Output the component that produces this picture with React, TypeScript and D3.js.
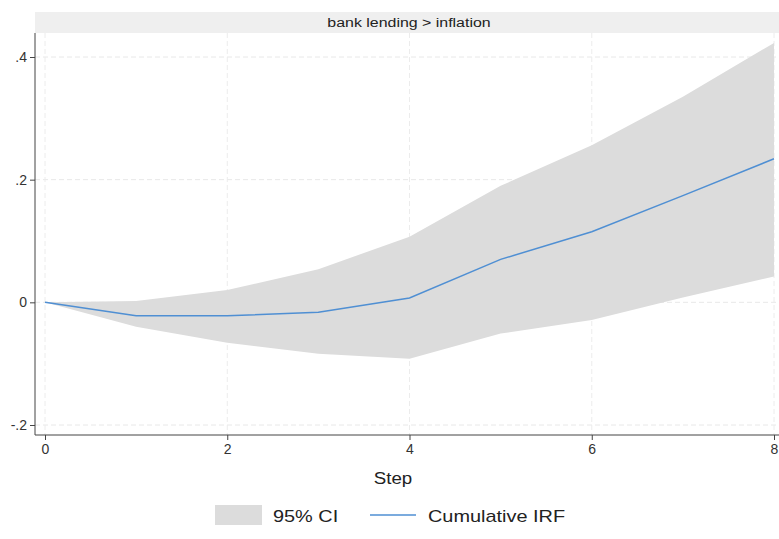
import { useRef, useEffect } from 'react';
import * as d3 from 'd3';

const steps = [0, 1, 2, 3, 4, 5, 6, 7, 8];
const irf = [0, -0.022, -0.022, -0.016, 0.007, 0.07, 0.115, 0.174, 0.234];
const ciLower = [0, -0.04, -0.066, -0.084, -0.092, -0.051, -0.029, 0.008, 0.042];
const ciUpper = [0, 0.002, 0.02, 0.054, 0.107, 0.19, 0.256, 0.335, 0.423];
const yTicks = [-0.2, 0, 0.2, 0.4];
const xTicks = [0, 2, 4, 6, 8];
const panelTitle = 'bank lending > inflation';

const FONT = '"Liberation Sans", Arial, sans-serif';

export default function App() {
  const svgRef = useRef<SVGSVGElement>(null);

  useEffect(() => {
    document.body.style.margin = '0';
    if (!svgRef.current) return;
    const width = 779;
    const h = 539;
    const plot = { left: 35, right: 779, top: 33, bottom: 435 };

    const svg = d3.select(svgRef.current);
    svg.selectAll('*').remove();
    svg.attr('width', width).attr('height', h).attr('viewBox', `0 0 ${width} ${h}`);

    svg.append('rect').attr('width', width).attr('height', h).attr('fill', '#fff');

    const x = d3.scaleLinear().domain([0, 8]).range([45, 774]);
    const y = d3.scaleLinear().domain([-0.2, 0.4]).range([425, 57]);

    // Header strip
    svg.append('rect')
      .attr('x', plot.left).attr('y', 12)
      .attr('width', plot.right - plot.left).attr('height', plot.top - 12)
      .attr('fill', '#efefef');
    svg.append('text')
      .attr('transform', 'translate(409,27) scale(1.18,1)')
      .attr('text-anchor', 'middle')
      .attr('font-family', FONT).attr('font-size', '13.5px').attr('fill', '#222')
      .text(panelTitle);

    // Grid
    svg.append('g')
      .selectAll('line')
      .data(yTicks)
      .join('line')
      .attr('x1', plot.left).attr('x2', plot.right)
      .attr('y1', d => y(d)).attr('y2', d => y(d))
      .attr('stroke', '#e8e8e8').attr('stroke-dasharray', '5,3');
    svg.append('g')
      .selectAll('line')
      .data(xTicks)
      .join('line')
      .attr('x1', d => x(d)).attr('x2', d => x(d))
      .attr('y1', plot.top).attr('y2', plot.bottom)
      .attr('stroke', '#ececec').attr('stroke-dasharray', '5,3');

    // CI band
    svg.append('path')
      .datum(steps)
      .attr('fill', '#dcdcdc')
      .attr('d', d3.area<number>()
        .x(d => x(d))
        .y0((_, i) => y(ciLower[i]))
        .y1((_, i) => y(ciUpper[i]))
      );

    // IRF line
    svg.append('path')
      .datum(steps)
      .attr('fill', 'none')
      .attr('stroke', '#4f8fd3')
      .attr('stroke-width', 1.5)
      .attr('d', d3.line<number>()
        .x(d => x(d))
        .y((_, i) => y(irf[i]))
      );

    // Axes
    const fmtY = (d: number) => {
      if (d === 0) return '0';
      const s = d3.format('.1f')(d);
      return s.replace('0.', '.').replace('−', '-');
    };

    svg.append('g')
      .attr('transform', `translate(${plot.left},0)`)
      .call(d3.axisLeft(y).tickValues(yTicks).tickSize(5).tickPadding(3).tickFormat(d => fmtY(+d)))
      .call(g => g.select('.domain').attr('stroke', '#444').attr('d', `M0,${plot.top}V${plot.bottom}`))
      .call(g => g.selectAll('.tick line').attr('stroke', '#444'))
      .call(g => g.selectAll('.tick text').attr('fill', '#333').attr('font-size', '14px').attr('font-family', FONT));

    svg.append('g')
      .attr('transform', `translate(0,${plot.bottom})`)
      .call(d3.axisBottom(x).tickValues(xTicks).tickSize(5).tickPadding(4).tickFormat(d3.format('d')))
      .call(g => g.select('.domain').attr('stroke', '#444').attr('d', `M${plot.left},0H${plot.right}`))
      .call(g => g.selectAll('.tick line').attr('stroke', '#444'))
      .call(g => g.selectAll('.tick text').attr('fill', '#333').attr('font-size', '14px').attr('font-family', FONT));

    // Axis title
    svg.append('text')
      .attr('transform', 'translate(393,484) scale(1.1,1)')
      .attr('text-anchor', 'middle')
      .attr('font-family', FONT).attr('font-size', '17px').attr('fill', '#222')
      .text('Step');

    // Legend
    const leg = svg.append('g');
    leg.append('rect')
      .attr('x', 215).attr('y', 505).attr('width', 47).attr('height', 20)
      .attr('fill', '#dcdcdc');
    leg.append('text')
      .attr('transform', 'translate(273,522) scale(1.17,1)')
      .attr('font-family', FONT).attr('font-size', '17px').attr('fill', '#222')
      .text('95% CI');
    leg.append('line')
      .attr('x1', 370).attr('x2', 416).attr('y1', 515).attr('y2', 515)
      .attr('stroke', '#4f8fd3').attr('stroke-width', 1.5);
    leg.append('text')
      .attr('transform', 'translate(428,522) scale(1.17,1)')
      .attr('font-family', FONT).attr('font-size', '17px').attr('fill', '#222')
      .text('Cumulative IRF');
  }, []);

  return <svg ref={svgRef} style={{ display: 'block' }} />;
}
